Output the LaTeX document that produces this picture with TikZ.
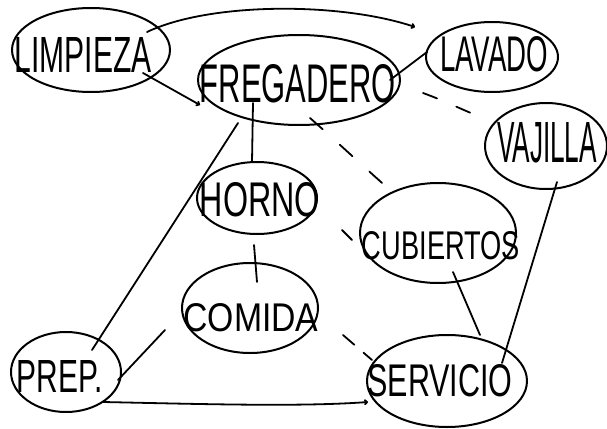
\documentclass[tikz,border=0pt]{standalone}
\usepackage{fontspec}
\setmainfont{Liberation Sans}
\usetikzlibrary{shapes.geometric,calc,arrows.meta}

\tikzset{
  bubble/.style={ellipse, draw, line width=2pt, inner sep=0pt},
  label/.style={inner sep=0pt},
  link/.style={line width=1.8pt, line cap=round, line join=round},
  dashlink/.style={link, dash pattern=on 15pt off 21pt},
  tip/.style={-{To[length=4pt,width=6pt]}},
}
% a label squeezed into the given width and height
\newcommand{\hw}[3]{\resizebox{#1pt}{#2pt}{#3}}

\begin{document}
\begin{tikzpicture}[x=1pt,y=-1pt]
\useasboundingbox (0,0) rectangle (607,428);

% bubbles
\node[bubble, minimum width=158pt, minimum height=84pt]  (limp)  at (91,50)  {};
\node[bubble, minimum width=202pt, minimum height=90pt]  (freg)  at (299,80) {};
\node[bubble, minimum width=132pt, minimum height=70pt]  (lav)   at (492,57) {};
\node[bubble, minimum width=122pt, minimum height=86pt]  (vaj)   at (546,146) {};
\node[bubble, minimum width=120pt, minimum height=72pt]  (horno) at (257,198) {};
\node[bubble, minimum width=156pt, minimum height=100pt] (cub)   at (438,233) {};
\node[bubble, minimum width=136pt, minimum height=90pt]  (com)   at (250,308) {};
\node[bubble, minimum width=110pt, minimum height=80pt]  (prep)  at (66,372) {};
\node[bubble, minimum width=160pt, minimum height=92pt]  (serv)  at (447,381) {};

% labels
\node[label] (tlimp)  at (83,55)   {\hw{137}{35}{LIMPIEZA}};
\node[label] (tfreg)  at (298,84)  {\hw{196}{38}{FREGADERO}};
\node[label] (tlav)   at (494,54)  {\hw{108}{35}{LAVADO}};
\node[label] (tvaj)   at (547,143) {\hw{100}{40}{VAJILLA}};
\node[label] (thorno) at (260,200) {\hw{120}{34}{HORNO}};
\node[label] (tcub)   at (441,246) {\hw{158}{28}{CUBIERTOS}};
\node[label] (tcom)   at (251,318) {\hw{135}{28}{COMIDA}};
\node[label] (tprep)  at (60,376)  {\hw{86}{32}{PREP.}};
\node[label] (tserv)  at (440,381) {\hw{145}{32}{SERVICIO}};

% free end of the long arc over the top
\coordinate (topend) at ($(lav)+(-77,-30)$);

% connectors
\draw[link, tip] ($(limp)+(56,-18)$) .. controls (210,2) and (340,2) .. (topend);
\draw[link, tip] ($(limp)+(52,23)$) -- ($(freg)+(-99,25)$);
\draw[link] ($(freg)+(91,0)$) -- ($(lav)+(-65,-5)$);
\draw[dashlink] ($(freg)+(124,13)$) .. controls (445,101) and (465,111) .. ($(vaj)+(-63,-28)$);
\draw[link, dash pattern=on 17pt off 23pt] ($(freg)+(11,38)$) .. controls (335,140) and (365,168) .. ($(cub)+(-48,-43)$);
\draw[link] ($(freg)+(-46,23)$) -- ($(horno)+(-5,-36)$);
\draw[link] ($(freg)+(-61,43)$) -- ($(prep)+(26,-22)$);
\draw[link] ($(horno)+(-3,47)$) -- ($(com)+(7,-26)$);
\draw[link] ($(horno)+(85,32)$) -- ($(cub)+(-86,7)$);
\draw[link] ($(prep)+(52,8)$) -- ($(com)+(-85,22)$);
\draw[link, tip] ($(prep)+(37,30)$) .. controls (200,404) and (300,407) .. ($(serv)+(-79,21)$);
\draw[link, dash pattern=on 15pt off 12pt] ($(com)+(93,27)$) -- ($(serv)+(-75,-21)$);
\draw[link] ($(cub)+(15,39)$) -- ($(serv)+(33,-46)$);
\draw[link] ($(vaj)+(11,36)$) -- ($(serv)+(55,-18)$);
\end{tikzpicture}
\end{document}
